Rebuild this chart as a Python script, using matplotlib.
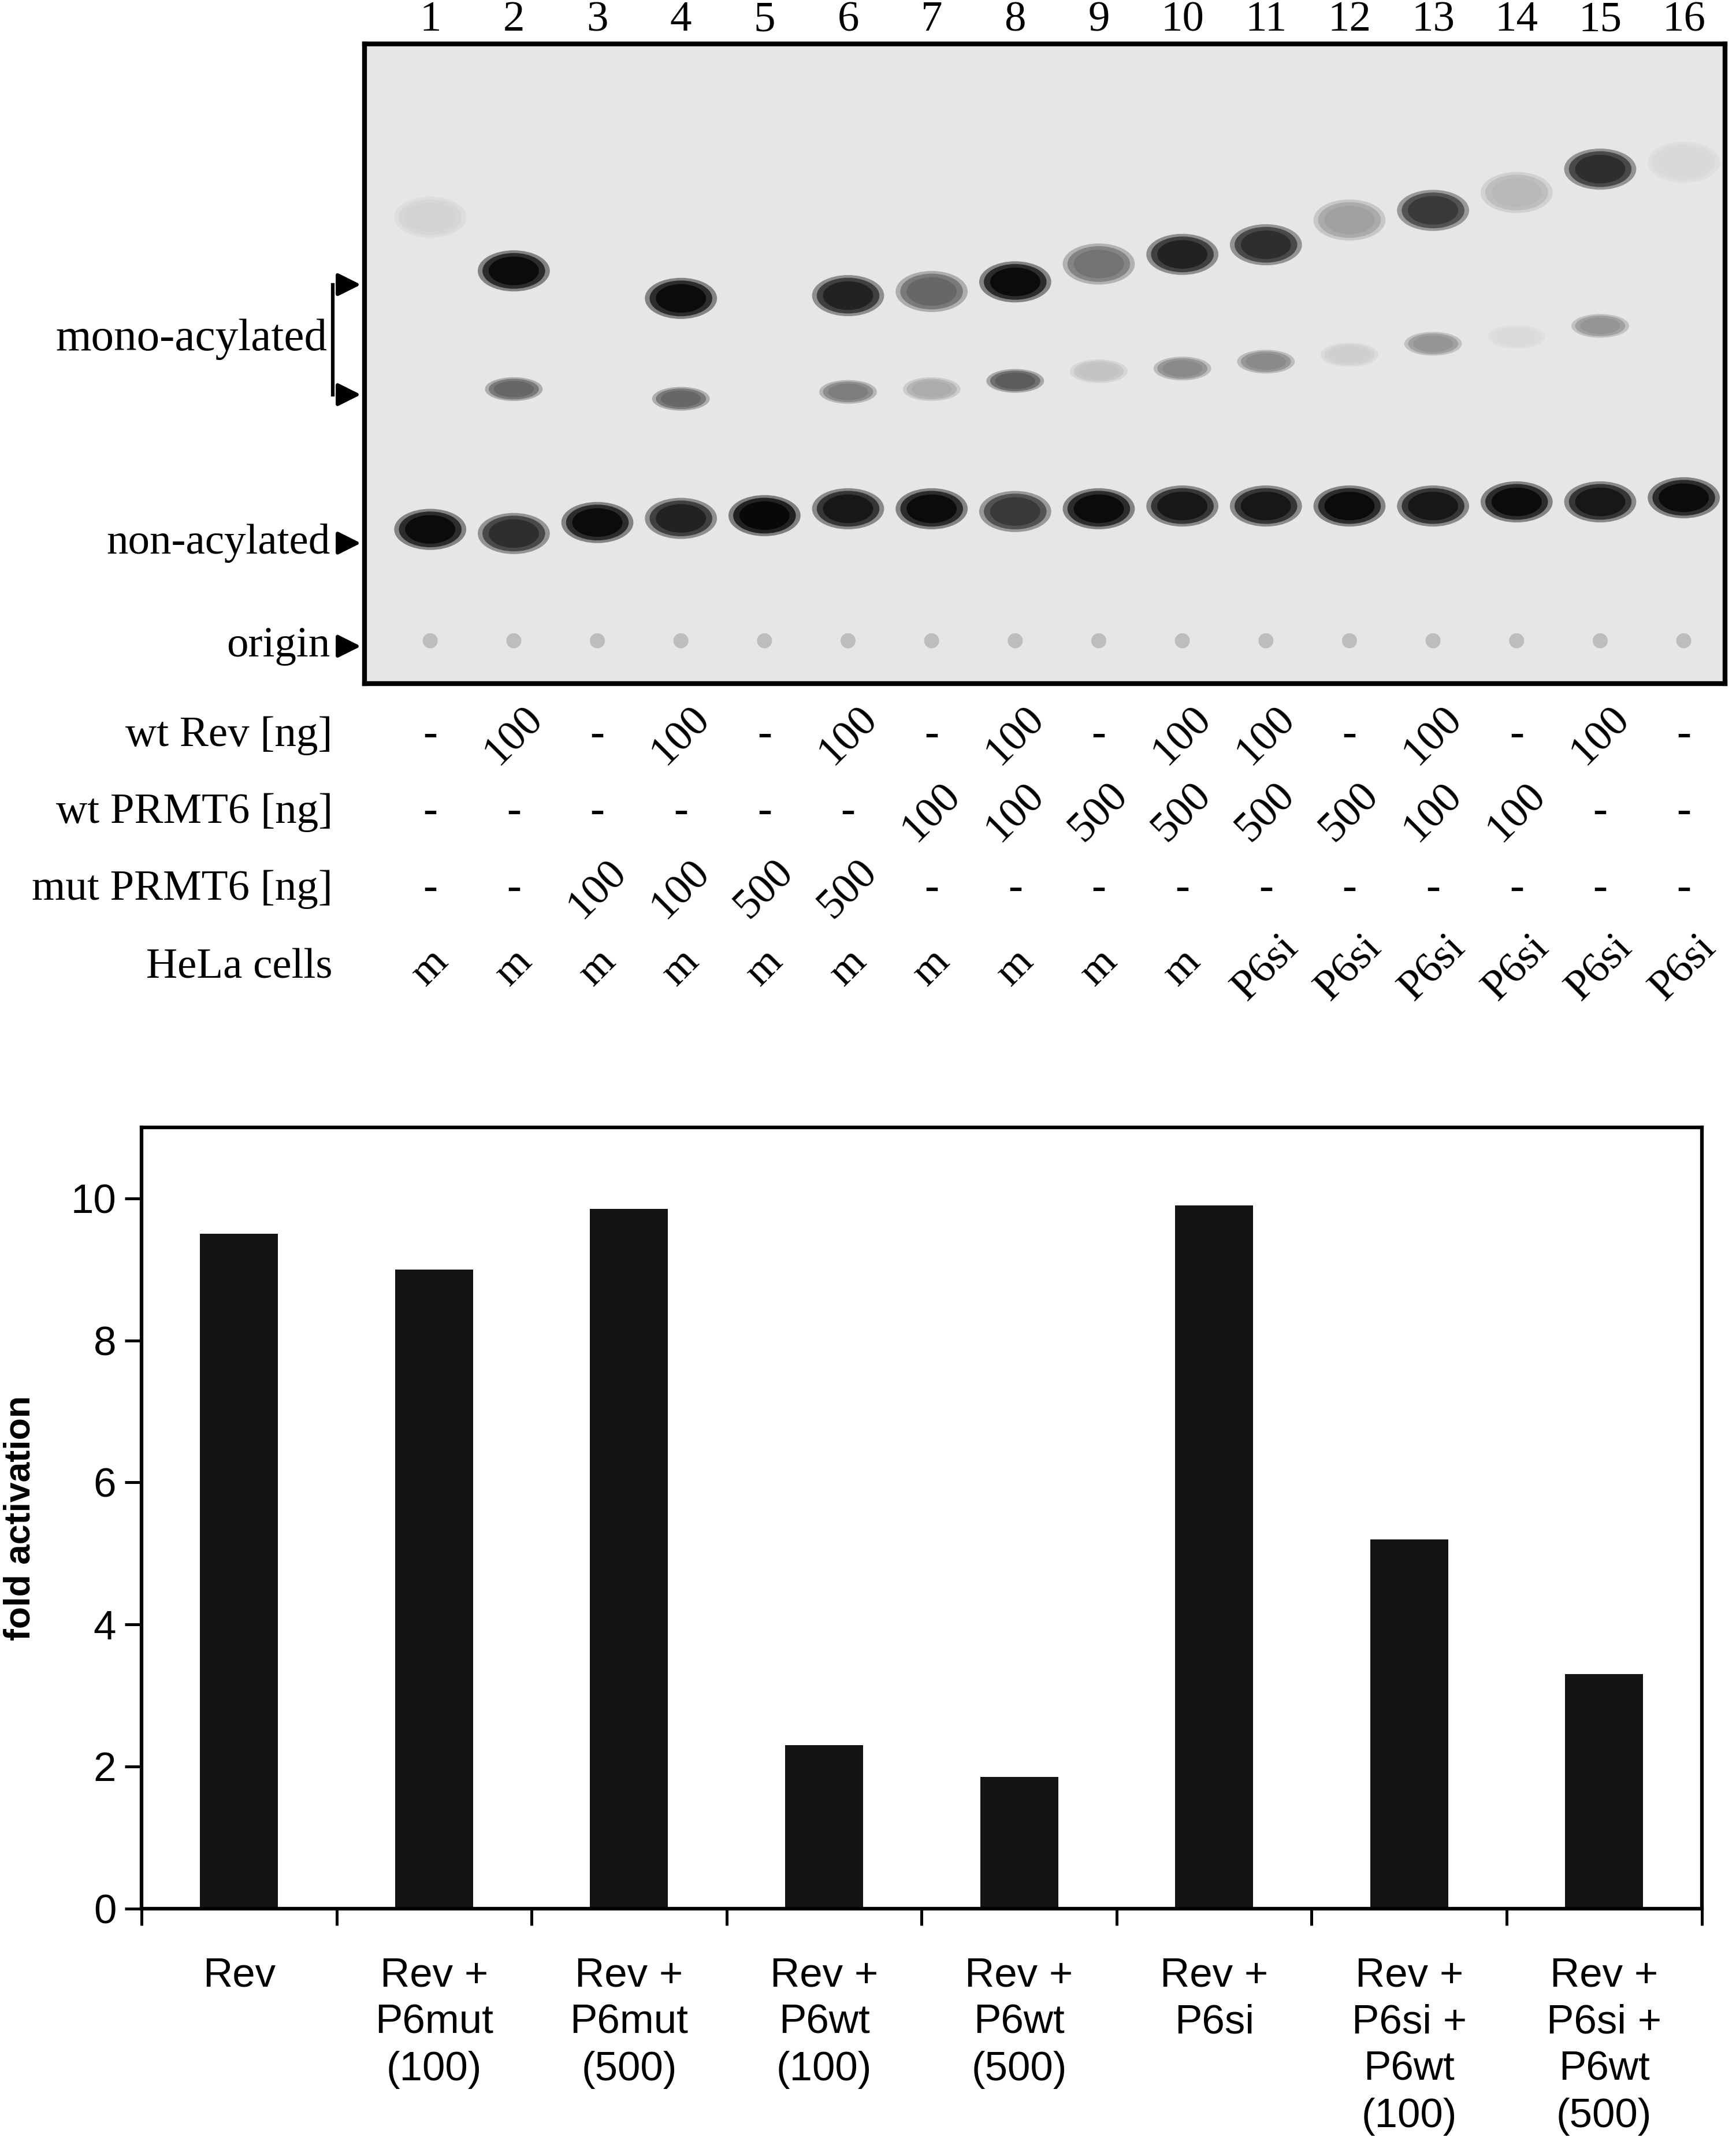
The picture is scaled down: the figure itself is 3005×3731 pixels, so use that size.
import matplotlib
matplotlib.use("Agg")
import matplotlib.pyplot as plt
from matplotlib.patches import Ellipse
import numpy as np

# ---- data ----
lanes = list(range(1, 17))
non_acyl = [0.95, 0.8, 0.95, 0.85, 1.0, 0.9, 0.95, 0.75, 0.95, 0.9, 0.9, 0.95, 0.9, 0.95, 0.9, 0.95]
mono_upper = [0.08, 0.95, 0.0, 0.95, 0.0, 0.85, 0.55, 0.95, 0.5, 0.85, 0.8, 0.3, 0.75, 0.2, 0.8, 0.06]
mono_lower = [0.0, 0.55, 0.0, 0.55, 0.0, 0.45, 0.25, 0.6, 0.15, 0.4, 0.4, 0.1, 0.35, 0.05, 0.35, 0.0]
# migration (pixel row in the gel scan) of each spot
y_non = [385, 388, 380, 377, 375, 370, 370, 372, 370, 368, 368, 368, 368, 365, 365, 362]
y_upper = [158, 197, 210, 217, 215, 215, 212, 205, 192, 185, 178, 160, 153, 140, 123, 118]
y_lower = [290, 283, 290, 290, 288, 285, 283, 277, 270, 268, 263, 258, 250, 245, 237, 235]
wt_rev = ["-", "100", "-", "100", "-", "100", "-", "100", "-", "100", "100", "-", "100", "-", "100", "-"]
wt_prmt6 = ["-", "-", "-", "-", "-", "-", "100", "100", "500", "500", "500", "500", "100", "100", "-", "-"]
mut_prmt6 = ["-", "-", "100", "100", "500", "500", "-", "-", "-", "-", "-", "-", "-", "-", "-", "-"]
hela = ["m"] * 10 + ["P6si"] * 6
row_labels = ["wt Rev [ng]", "wt PRMT6 [ng]", "mut PRMT6 [ng]", "HeLa cells"]

categories = ["Rev", "Rev +\nP6mut\n(100)", "Rev +\nP6mut\n(500)", "Rev +\nP6wt\n(100)",
              "Rev +\nP6wt\n(500)", "Rev +\nP6si", "Rev +\nP6si +\nP6wt\n(100)", "Rev +\nP6si +\nP6wt\n(500)"]
fold = [9.5, 9.0, 9.85, 2.3, 1.85, 9.9, 5.2, 3.3]

W, H = 1263, 1568
fig = plt.figure(figsize=(3005/300, 3731/300), dpi=300)
serif = "Liberation Serif"
fs = 18

# ---- gel ----
gx0, gx1, gy0, gy1 = 265, 1255, 32, 497
gax = fig.add_axes([gx0/W, 1-gy1/H, (gx1-gx0)/W, (gy1-gy0)/H])
def lx(px): return 1 + (px-313)/60.8
gax.set_xlim(lx(gx0), lx(gx1))
gax.set_ylim(gy1, gy0)
gax.set_facecolor("#e6e6e6")
gax.set_xticks([]); gax.set_yticks([])
for s in gax.spines.values():
    s.set_linewidth(2)
for i, ln in enumerate(lanes):
    for y, v, w, h in [(y_non[i], non_acyl[i], 0.75, 26), (y_upper[i], mono_upper[i], 0.75, 26),
                       (y_lower[i], mono_lower[i], 0.6, 15)]:
        if v > 0:
            for k, sc in enumerate([1.15, 1.0, 0.8]):
                g = 0.9 - 0.9*v*[0.45, 0.85, 1.0][k]
                gax.add_patch(Ellipse((ln, y), w*sc, h*sc, color=str(max(g, 0.03)), lw=0))
    gax.add_patch(Ellipse((ln, 466), 0.18, 11, color="0.74", lw=0))
    gax.text(ln, 15, str(ln), ha="center", va="center", fontsize=fs, family=serif, clip_on=False)

rows = [wt_rev, wt_prmt6, mut_prmt6, hela]
row_y = [535, 591, 647, 704]
for lab, vals, y in zip(row_labels, rows, row_y):
    gax.text(lx(242), y, lab, ha="right", va="center", fontsize=fs, family=serif, clip_on=False)
    for ln, v in zip(lanes, vals):
        rot = 0 if v == "-" else 45
        gax.text(ln, y, v, ha="center", va="center", rotation=rot, fontsize=fs, family=serif, clip_on=False)

for txt, y in [("non-acylated", 395), ("origin", 470)]:
    gax.text(lx(240), y, txt, ha="right", va="center", fontsize=fs, family=serif, clip_on=False)
    gax.annotate("", xy=(lx(266), y), xytext=(lx(244), y),
                 arrowprops=dict(arrowstyle="-|>", color="k", lw=1.5, mutation_scale=20), annotation_clip=False)
gax.text(lx(238), 247, "mono-acylated", ha="right", va="center", fontsize=fs+1, family=serif, clip_on=False)
gax.plot([lx(242), lx(242)], [207, 287], color="k", lw=1.5, clip_on=False)
for y in [207, 287]:
    gax.annotate("", xy=(lx(266), y), xytext=(lx(242), y),
                 arrowprops=dict(arrowstyle="-|>", color="k", lw=1.5, mutation_scale=20), annotation_clip=False)

# ---- bar chart ----
bx0, bx1, by0, by1 = 103, 1238, 820, 1388
ax = fig.add_axes([bx0/W, 1-by1/H, (bx1-bx0)/W, (by1-by0)/H])
x = np.arange(len(categories))
ax.bar(x, fold, width=0.4, color="#141414")
ax.set_xlim(-0.5, len(categories)-0.5)
ax.set_ylim(0, 11)
ax.set_yticks([0, 2, 4, 6, 8, 10])
ax.set_xticks(x)
ax.set_xticklabels(categories, fontsize=17, family="Liberation Sans", linespacing=1.3)
ax.set_xticks(np.arange(-0.5, len(categories), 0.5), minor=True)
ax.tick_params(axis="x", which="major", length=0, pad=20)
ax.tick_params(axis="x", which="minor", length=7, width=1.2, direction="out")
ax.tick_params(axis="y", labelsize=17, length=7, width=1.2)
for lb in ax.get_yticklabels():
    lb.set_family("Liberation Sans")
ax.set_ylabel("fold activation", fontsize=15, fontweight="bold", family="Liberation Sans", labelpad=14)
for s in ax.spines.values():
    s.set_linewidth(1.5)

fig.savefig("out.png", dpi=300)
